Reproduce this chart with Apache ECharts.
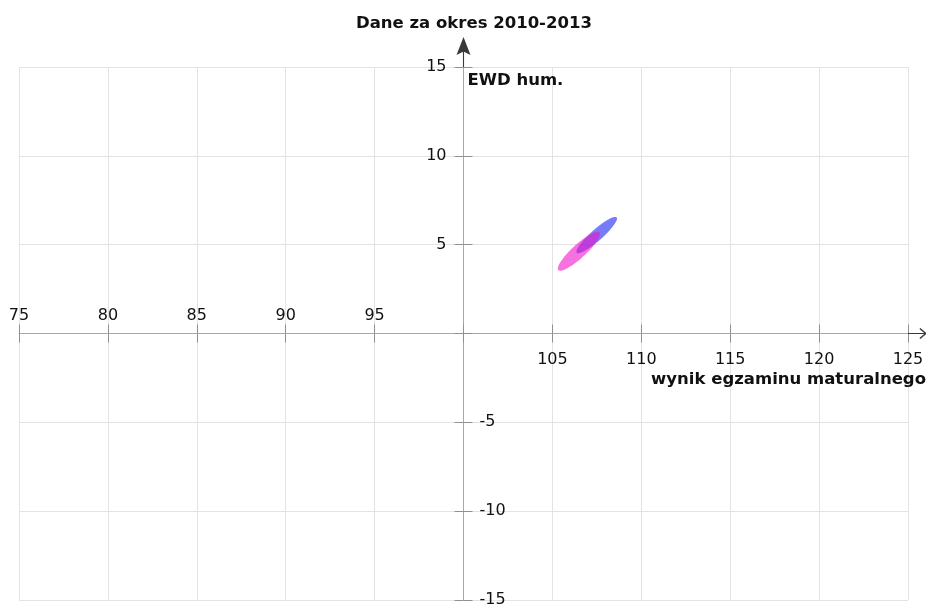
<!DOCTYPE html>
<html>
<head>
<meta charset="utf-8">
<script src="https://cdn.jsdelivr.net/npm/echarts@6/dist/echarts.min.js"></script>
<style>
  html, body { margin: 0; padding: 0; background: #fff; }
  #chart { width: 926px; height: 606px; }
</style>
</head>
<body>
<div id="chart"></div>
<script>
// ---- data ----
const chartTitle = 'Dane za okres 2010-2013';
const xAxisName = 'wynik egzaminu maturalnego';
const yAxisName = 'EWD hum.';
const X_CROSS = 100;            // x value where the y axis crosses
const Y_CROSS = 0;              // y value where the x axis crosses
const xMin = 75, xMax = 125, xStep = 5;
const yMin = -15, yMax = 15, yStep = 5;

// ellipses (EWD confidence ellipses): centre, semi-axes (data units), angle (deg)
const ellipseCenterX = [107.49, 106.49];
const ellipseCenterY = [5.54, 4.63];
const ellipseSemiMajor = [1.50, 1.57];
const ellipseSemiMinor = [0.32, 0.38];
const ellipseAngle = [41.5, 42.5];

// ---- styles / layout ----
const ellipseColors = ['rgba(20,30,240,0.58)', 'rgba(240,20,200,0.6)'];
const FONT = 'DejaVu Sans';
const AXIS_GRAY = '#a8a8a8';
const TICK_GRAY = '#909090';
const ARROW_DARK = '#3a3a3a';
const W = 926, H = 606;
const G = { left: 19, right: 18, top: 67, bottom: 6 };
const gridW = W - G.left - G.right;
const gridH = H - G.top - G.bottom;
// distance of the crossing axes from the grid edges
const fromLeft = gridW * (X_CROSS - xMin) / (xMax - xMin);
const fromRight = gridW - fromLeft;
const fromBottom = gridH * (Y_CROSS - yMin) / (yMax - yMin);
const fromTop = gridH - fromBottom;

const yArrow = 'path://M7,0 L14,18 L7,14.5 L0,18 Z M6.45,14 L7.55,14 L7.55,30 L6.45,30 Z';
const xArrow = 'path://M5.5,0 L11,6.6 L10,7.6 L5.5,2.2 L1,7.6 L0,6.6 Z M5,1.8 L6,1.8 L6,19 L5,19 Z';

function ellipseRender(params, api) {
  const cx = api.value(0), cy = api.value(1);
  const a = api.value(2), b = api.value(3);
  const ang = api.value(4) * Math.PI / 180;
  const pts = [];
  const N = 90;
  for (let i = 0; i < N; i++) {
    const t = i / N * 2 * Math.PI;
    const dx = a * Math.cos(ang) * Math.cos(t) - b * Math.sin(ang) * Math.sin(t);
    const dy = a * Math.sin(ang) * Math.cos(t) + b * Math.cos(ang) * Math.sin(t);
    pts.push(api.coord([cx + dx, cy + dy]));
  }
  return {
    type: 'polygon',
    shape: { points: pts },
    style: { fill: ellipseColors[params.seriesIndex] }
  };
}

const ellipseSeries = ellipseCenterX.map(function (cx, i) {
  return {
    type: 'custom',
    xAxisIndex: 0,
    yAxisIndex: 0,
    renderItem: ellipseRender,
    encode: { x: 0, y: 1 },
    data: [[cx, ellipseCenterY[i], ellipseSemiMajor[i], ellipseSemiMinor[i], ellipseAngle[i]]],
    z: 3 + i
  };
});

const labelStyle = { fontFamily: FONT, fontSize: 16, color: '#111' };
const boldStyle = { fontFamily: FONT, fontSize: 16.5, fontWeight: 'bold', color: '#111' };

const chart = echarts.init(document.getElementById('chart'), null, { renderer: 'canvas' });
chart.setOption({
  animation: false,
  backgroundColor: '#fff',
  title: {
    text: chartTitle,
    left: 356,
    top: 15,
    padding: 0,
    textStyle: boldStyle
  },
  grid: { left: G.left, right: G.right, top: G.top, bottom: G.bottom, outerBoundsMode: 'none', containLabel: false },
  xAxis: [
    {
      type: 'value',
      position: 'bottom',
      offset: -fromBottom,
      min: xMin, max: xMax, interval: xStep,
      name: xAxisName,
      nameLocation: 'end',
      nameGap: 18,
      nameTextStyle: Object.assign({ align: 'right', verticalAlign: 'top', padding: [38, 0, 0, 0] }, boldStyle),
      axisLine: { onZero: false, lineStyle: { color: AXIS_GRAY, width: 1 } },
      axisTick: { show: true, length: 9, lineStyle: { color: TICK_GRAY } },
      axisLabel: Object.assign({ margin: 18, formatter: function (v) { return v > X_CROSS ? String(v) : ''; } }, labelStyle),
      splitLine: { show: true, lineStyle: { color: '#e3e3e3', width: 1 } }
    },
    {
      type: 'value',
      position: 'top',
      offset: -fromTop,
      min: xMin, max: xMax, interval: xStep,
      axisLine: { onZero: false, symbol: ['none', xArrow], symbolSize: [11, 19], symbolOffset: [0, 9.5],
        lineStyle: { color: ARROW_DARK, width: 0 } },
      axisTick: { show: true, length: 9, lineStyle: { color: TICK_GRAY } },
      axisLabel: Object.assign({ margin: 10, formatter: function (v) { return v < X_CROSS ? String(v) : ''; } }, labelStyle),
      splitLine: { show: false }
    }
  ],
  yAxis: [
    {
      type: 'value',
      position: 'left',
      offset: -fromLeft,
      min: yMin, max: yMax, interval: yStep,
      name: yAxisName,
      nameLocation: 'end',
      nameGap: -14,
      nameTextStyle: Object.assign({ align: 'left', verticalAlign: 'middle', padding: [0, 0, 0, 4] }, boldStyle),
      axisLine: { onZero: false, lineStyle: { color: AXIS_GRAY, width: 1 } },
      axisTick: { show: true, length: 9, lineStyle: { color: TICK_GRAY } },
      axisLabel: Object.assign({ margin: 17, formatter: function (v) { return v > Y_CROSS ? String(v) : ''; } }, labelStyle),
      splitLine: { show: true, lineStyle: { color: '#e3e3e3', width: 1 } }
    },
    {
      type: 'value',
      position: 'right',
      offset: -fromRight,
      min: yMin, max: yMax, interval: yStep,
      axisLine: { onZero: false, symbol: ['none', yArrow], symbolSize: [14, 30], symbolOffset: [0, 15],
        lineStyle: { color: ARROW_DARK, width: 0 } },
      axisTick: { show: true, length: 9, lineStyle: { color: TICK_GRAY } },
      axisLabel: Object.assign({ margin: 16, formatter: function (v) { return v < Y_CROSS ? String(v) : ''; } }, labelStyle),
      splitLine: { show: false }
    }
  ],
  series: ellipseSeries
});
</script>
</body>
</html>
